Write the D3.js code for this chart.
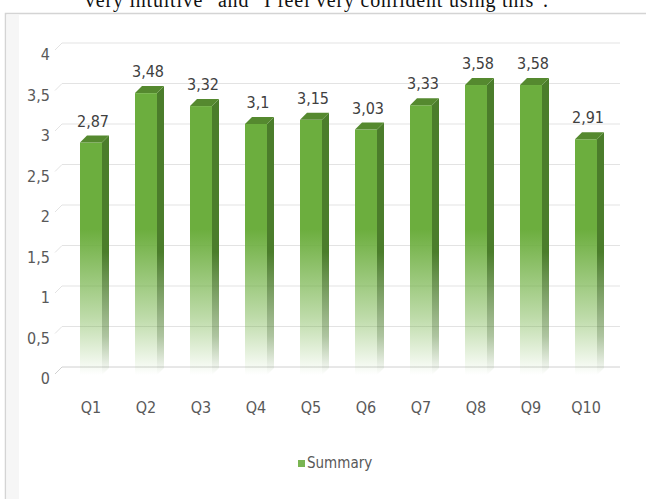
<!DOCTYPE html>
<html>
<head>
<meta charset="utf-8">
<script src="https://cdn.jsdelivr.net/npm/d3@7"></script>
<style>
    html, body { margin: 0; padding: 0; background: #fff; }
    svg { display: block; }
    .narrow { font-family: "Liberation Sans Narrow", "Arial Narrow", "DejaVu Sans Condensed", sans-serif; }
</style>
</head>
<body>
<svg id="chart" width="646" height="499"></svg>
<script>
// data
const categories = ['Q1', 'Q2', 'Q3', 'Q4', 'Q5', 'Q6', 'Q7', 'Q8', 'Q9', 'Q10'];
const summary = [2.87, 3.48, 3.32, 3.1, 3.15, 3.03, 3.33, 3.58, 3.58, 2.91];
const yTicks = [0, 0.5, 1, 1.5, 2, 2.5, 3, 3.5, 4];
const seriesName = 'Summary';

const svg = d3.select('#chart');
const depth = 7;      // 3d offset of the bars
const wallShift = 8;  // back wall sits a bit higher than the bar fronts

const x = d3.scaleBand()
    .domain(categories)
    .range([63.5, 613.5])
    .paddingInner(0.6)
    .paddingOuter(0.3);

const y = d3.scaleLinear()
    .domain([0, 4])
    .range([375, 51]);

const fmt = v => String(v).replace('.', ',');

// caption line cut off at the top of the picture
svg.append('text')
    .attr('x', 85)
    .attr('y', 7)
    .attr('textLength', 463)
    .attr('font-family', '"Liberation Serif", "Times New Roman", serif')
    .attr('font-size', 20)
    .attr('fill', '#111')
    .text('very intuitive" and "I feel very confident using this".');

// chart frame (right and bottom fall outside the picture)
svg.append('path')
    .attr('d', 'M5.5,499V13.5H646')
    .attr('fill', 'none')
    .attr('stroke', '#d4d4d4')
    .attr('stroke-width', 1.5);
svg.append('rect')
    .attr('x', 7).attr('y', 15).attr('width', 12).attr('height', 484)
    .attr('fill', '#f6f6f6');

const defs = svg.append('defs');

const fade = (id, color, from, to) => {
    const g = defs.append('linearGradient')
        .attr('id', id)
        .attr('gradientUnits', 'userSpaceOnUse')
        .attr('x1', 0).attr('x2', 0)
        .attr('y1', y(4)).attr('y2', y(0));
    g.append('stop').attr('offset', 0).attr('stop-color', color).attr('stop-opacity', 1);
    g.append('stop').attr('offset', from).attr('stop-color', color).attr('stop-opacity', 1);
    g.append('stop').attr('offset', to).attr('stop-color', color).attr('stop-opacity', 0.45);
    g.append('stop').attr('offset', 1).attr('stop-color', color).attr('stop-opacity', 0);
};
fade('frontFade', '#6cae3e', 0.55, 0.82);
fade('sideFade', '#4b7d2b', 0.62, 0.88);

// gridlines on the back wall with a short slanted piece on the side wall
const wallX0 = x(categories[0]) - 18;
const gridLines = svg.append('g');
gridLines.selectAll('path')
    .data(yTicks)
    .join('path')
    .attr('d', d => {
        const yb = y(d) - wallShift;
        return `M${wallX0 - depth},${yb + depth}L${wallX0},${yb}H620`;
    })
    .attr('fill', 'none')
    .attr('stroke', d => d === 0 ? '#d0d0d0' : '#e3e3e3')
    .attr('stroke-width', 1);

// bars
const bars = svg.append('g')
    .selectAll('g')
    .data(summary.map((v, i) => ({ name: categories[i], value: v })))
    .join('g');

bars.append('rect')
    .attr('x', d => x(d.name))
    .attr('y', d => y(d.value))
    .attr('width', x.bandwidth())
    .attr('height', d => y(0) - y(d.value))
    .attr('fill', 'url(#frontFade)');

bars.append('path')
    .attr('d', d => {
        const x1 = x(d.name) + x.bandwidth();
        return `M${x1},${y(d.value)}L${x1 + depth},${y(d.value) - depth}L${x1 + depth},${y(0) - depth}L${x1},${y(0)}Z`;
    })
    .attr('fill', 'url(#sideFade)');

bars.append('path')
    .attr('d', d => {
        const x0 = x(d.name);
        const x1 = x0 + x.bandwidth();
        const yt = y(d.value);
        return `M${x0},${yt}L${x0 + depth},${yt - depth}L${x1 + depth},${yt - depth}L${x1},${yt}Z`;
    })
    .attr('fill', '#55892f');

bars.append('text')
    .attr('class', 'narrow')
    .attr('x', d => x(d.name) + x.bandwidth() / 2 + 2)
    .attr('y', d => y(d.value) - depth - 9)
    .attr('text-anchor', 'middle')
    .attr('font-size', 16)
    .attr('fill', '#404040')
    .text(d => fmt(d.value));

// value axis
svg.append('g')
    .selectAll('text')
    .data(yTicks)
    .join('text')
    .attr('class', 'narrow')
    .attr('x', 50)
    .attr('y', d => y(d) + 9)
    .attr('text-anchor', 'end')
    .attr('font-size', 16)
    .attr('fill', '#595959')
    .text(d => fmt(d));

// category axis
svg.append('g')
    .selectAll('text')
    .data(categories)
    .join('text')
    .attr('class', 'narrow')
    .attr('x', d => x(d) + x.bandwidth() / 2)
    .attr('y', 413)
    .attr('text-anchor', 'middle')
    .attr('font-size', 16)
    .attr('fill', '#595959')
    .text(d => d);

// legend
const legend = svg.append('g').attr('transform', 'translate(298,460)');
legend.append('rect')
    .attr('width', 7).attr('height', 7)
    .attr('fill', '#7ab552');
legend.append('text')
    .attr('class', 'narrow')
    .attr('x', 9)
    .attr('y', 8)
    .attr('font-size', 15)
    .attr('fill', '#595959')
    .text(seriesName);
</script>
</body>
</html>
